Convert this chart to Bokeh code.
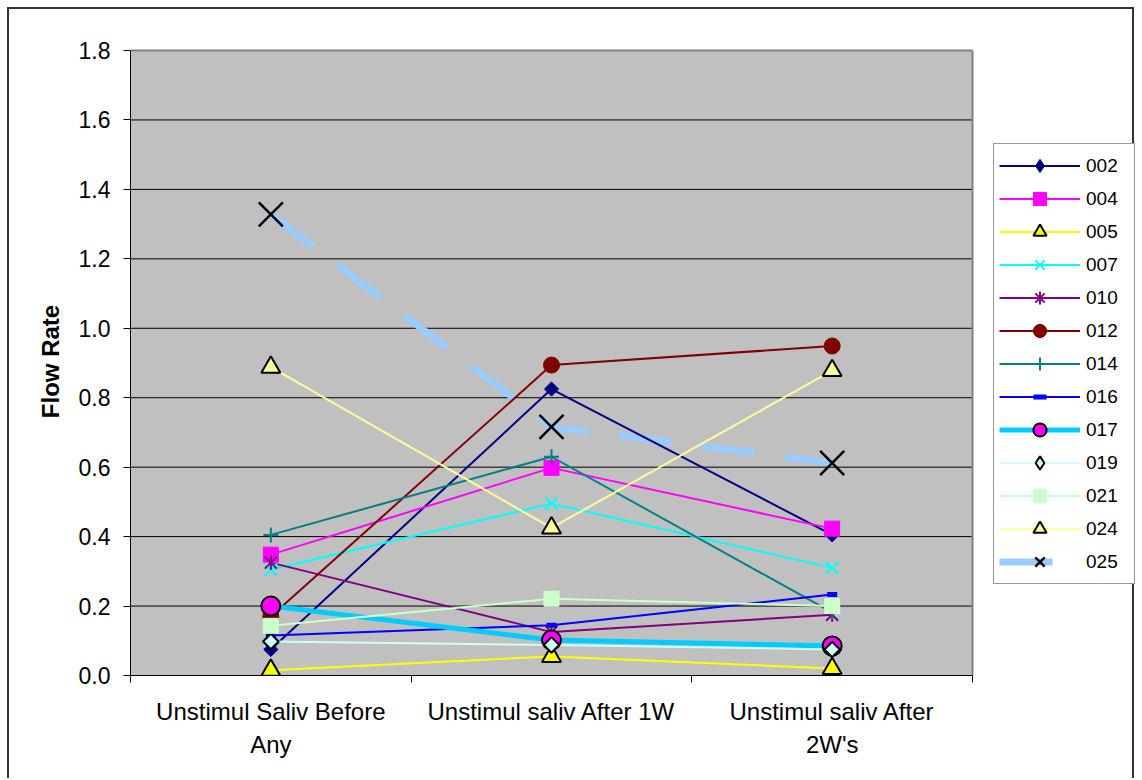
import math
from bokeh.plotting import figure
from bokeh.models import (FixedTicker, PrintfTickFormatter, Legend, LegendItem, Range1d)
from bokeh.embed import file_html
from bokeh.resources import INLINE

# ---- data -------------------------------------------------------------
phases = ["Unstimul Saliv Before\nAny", "Unstimul saliv After 1W", "Unstimul saliv After\n2W's"]
phase_x = [0.5, 1.5, 2.5]

subjects = ["002", "004", "005", "007", "010", "012", "014", "016",
            "017", "019", "021", "024", "025"]

s002 = [0.075, 0.825, 0.405]
s004 = [0.348, 0.598, 0.423]
s005 = [0.015, 0.055, 0.020]
s007 = [0.305, 0.495, 0.310]
s010 = [0.325, 0.125, 0.175]
s012 = [0.170, 0.894, 0.949]
s014 = [0.405, 0.630, 0.182]
s016 = [0.115, 0.145, 0.233]
s017 = [0.200, 0.102, 0.085]
s019 = [0.098, 0.088, 0.075]
s021 = [0.143, 0.221, 0.200]
s024 = [0.888, 0.425, 0.878]
s025 = [1.328, 0.716, 0.612]

y_ticks = [0.0, 0.2, 0.4, 0.6, 0.8, 1.0, 1.2, 1.4, 1.6, 1.8]
y_max = 1.8
n_phases = 3

values = [s002, s004, s005, s007, s010, s012, s014, s016,
          s017, s019, s021, s024, s025]

# ---- styling per series -------------------------------------------------
FONT = "Liberation Sans"
Q = math.pi / 4
# marker tuples: (marker, size, fill, line colour, line width, angle)
styles = {
    "002": dict(lc="#000080", lw=2, marks=[("square", 10, "#000080", "#000080", 1, Q)],
                key=[("diamond", "#000080", "#000080", 1)]),
    "004": dict(lc="#FF00FF", lw=2, marks=[("square", 15, "#FF00FF", "#FF00FF", 1, 0)]),
    "005": dict(lc="#FFFF00", lw=2, marks=[("triangle", 19, "#FFFF00", "black", 2, 0)]),
    "007": dict(lc="#00FFFF", lw=2, marks=[("x", 18, None, "#00FFFF", 2, 0)]),
    "010": dict(lc="#800080", lw=2, marks=[("x", 17, None, "#800080", 2, 0),
                                          ("dash", 14, None, "#800080", 2, math.pi / 2)],
                key=[("asterisk", None, "#800080", 2)]),
    "012": dict(lc="#800000", lw=2, marks=[("circle", 16, "#800000", "#800000", 1, 0)]),
    "014": dict(lc="#008080", lw=2, marks=[("cross", 15, None, "#008080", 2, 0)]),
    "016": dict(lc="#0000FF", lw=2, marks=[("dash", 10, None, "#0000FF", 5, 0)]),
    "017": dict(lc="#00CCFF", lw=5, marks=[("circle", 19, "#FF00FF", "black", 2, 0)]),
    "019": dict(lc="#CCFFFF", lw=2, marks=[("square", 11, "#CCFFFF", "black", 2, Q)],
                key=[("diamond", "#CCFFFF", "black", 2)]),
    "021": dict(lc="#CCFFCC", lw=2, marks=[("square", 15, "#CCFFCC", "#CCFFCC", 1, 0)]),
    "024": dict(lc="#FFFF99", lw=2, marks=[("triangle", 19, "#FFFF99", "black", 2, 0)]),
    "025": dict(lc="#99CCFF", lw=7, dash="53 31",
                marks=[("x", 34, None, "black", 2.5, 0)]),
}

# plot area spans 0..3 on x; the frame runs on to the right so the key fits inside it
PX_PER_X = 842 / 3.0
PX_PER_Y = 625 / 1.8
x_end = n_phases + (1136 - 972) / PX_PER_X
y_end = y_max + 3 / PX_PER_Y

p = figure(width=1127, height=771, output_backend="svg", toolbar_location=None,
           x_range=Range1d(0, x_end), y_range=Range1d(0, y_end),
           min_border_left=121, min_border_right=0,
           min_border_top=38, min_border_bottom=105)
p.margin = (7, 0, 0, 7)
# chart area border (its lower edge lies below the page)
p.styles = {"border-top": "2px solid #333333",
            "border-left": "2px solid #333333",
            "border-right": "2px solid #333333"}

p.background_fill_color = "white"
p.border_fill_color = "white"
p.outline_line_color = None
p.grid.visible = False

# grey plot area, gridlines and its edge
p.quad(left=0, right=n_phases, bottom=0, top=y_max, fill_color="#C0C0C0",
       line_color=None, level="underlay")
inner = [t for t in y_ticks if 0 < t < y_max]
p.segment(x0=[0] * len(inner), y0=inner, x1=[n_phases] * len(inner), y1=inner,
          line_color="black", line_width=1, level="underlay")
p.segment(x0=[0, n_phases], y0=[y_max, 0], x1=[n_phases, n_phases], y1=[y_max, y_max],
          line_color="#808080", line_width=2, level="underlay")

# y axis
p.yaxis.bounds = (0, y_max)
p.yaxis.ticker = FixedTicker(ticks=y_ticks)
p.yaxis.formatter = PrintfTickFormatter(format="%.1f")
p.yaxis.axis_label = "Flow Rate"
p.yaxis.axis_label_text_font = FONT
p.yaxis.axis_label_text_font_style = "bold"
p.yaxis.axis_label_text_font_size = "24px"
p.yaxis.axis_label_text_color = "black"
p.yaxis.axis_label_standoff = 12
p.yaxis.major_label_text_font = FONT
p.yaxis.major_label_text_font_size = "23px"
p.yaxis.major_label_text_color = "black"
p.yaxis.major_label_standoff = 13
p.yaxis.major_tick_out = 7
p.yaxis.major_tick_in = 0
p.yaxis.minor_tick_line_color = None
p.yaxis.axis_line_color = "black"
p.yaxis.major_tick_line_color = "black"

# x axis: category names centred, tick marks on the category boundaries
p.xaxis.bounds = (0, n_phases)
p.xaxis.ticker = FixedTicker(ticks=phase_x, minor_ticks=list(range(n_phases + 1)))
p.xaxis.major_label_overrides = {x: lab for x, lab in zip(phase_x, phases)}
p.xaxis.major_label_text_font = FONT
p.xaxis.major_label_text_font_size = "24px"
p.xaxis.major_label_text_color = "black"
p.xaxis.major_label_text_line_height = 1.25
p.xaxis.major_label_standoff = 15
p.xaxis.major_tick_line_color = None
p.xaxis.major_tick_out = 0
p.xaxis.major_tick_in = 0
p.xaxis.minor_tick_line_color = "black"
p.xaxis.minor_tick_out = 7
p.xaxis.minor_tick_in = 0
p.xaxis.axis_line_color = "black"

# ---- series -------------------------------------------------------------
line_r = {}
# the broad dashed series sits underneath the others
order = ["025"] + [s for s in subjects if s != "025"]
vals = dict(zip(subjects, values))
for name in order:
    st = styles[name]
    kw = dict(line_color=st["lc"], line_width=st["lw"])
    if "dash" in st:
        kw["line_dash"] = st["dash"]
    line_r[name] = p.line(phase_x, vals[name], **kw)

# key symbols the legend cannot draw rotated: tiny copies hidden under the real markers
key_r = {}
for name in subjects:
    if "key" in styles[name]:
        key_r[name] = [p.scatter(phase_x, vals[name], marker=mk, size=1,
                                 fill_color=fill, line_color=lcol, line_width=lw)
                       for (mk, fill, lcol, lw) in styles[name]["key"]]

mark_r = {}
for name in subjects:
    rs = []
    for (mk, size, fill, lcol, lw, ang) in styles[name]["marks"]:
        rs.append(p.scatter(phase_x, vals[name], marker=mk, size=size, angle=ang,
                            fill_color=fill, line_color=lcol, line_width=lw))
    mark_r[name] = rs

items = [LegendItem(label=name,
                    renderers=[line_r[name]] + key_r.get(name, mark_r[name]))
         for name in subjects]
legend = Legend(items=items, location=(863, 91), margin=0,
                glyph_width=81, glyph_height=33, label_height=33, spacing=0,
                padding=5, label_standoff=6, label_width=43,
                label_text_font=FONT, label_text_font_size="19px",
                label_text_color="black",
                border_line_color="#333333", border_line_width=1.5,
                background_fill_color="white", background_fill_alpha=1)
p.add_layout(legend)

open("out.html", "w").write(file_html(p, INLINE))
